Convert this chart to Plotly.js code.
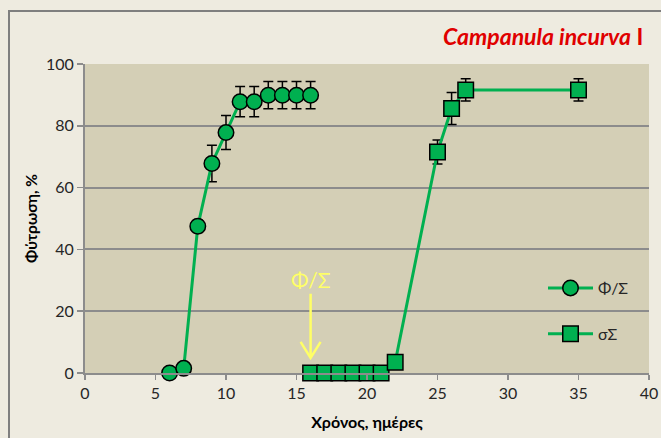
<!DOCTYPE html>
<html>
<head>
<meta charset="utf-8">
<script src="https://cdn.plot.ly/plotly-3.0.1.min.js"></script>
<style>
  html, body { margin: 0; padding: 0; background: #eeebe0; }
  #chart { width: 661px; height: 438px; }
</style>
</head>
<body>
<div id="chart"></div>
<script>
// ---- data ----
const daysFS = [6, 7, 8, 9, 10, 11, 12, 13, 14, 15, 16];
const germFS = [0, 1.5, 47.5, 67.8, 77.8, 87.8, 87.8, 89.9, 89.9, 89.9, 89.9];
const errFS  = [0, 0, 2, 5.9, 5.5, 4.9, 4.9, 4.4, 4.4, 4.4, 4.4];

const daysSS = [16, 17, 18, 19, 20, 21, 22, 25, 26, 27, 35];
const germSS = [0, 0, 0, 0, 0, 0, 3.5, 71.5, 85.6, 91.6, 91.6];
const errSS  = [0, 0, 0, 0, 0, 0, 0, 3.9, 5.2, 3.6, 3.6];

const seriesNames = ['Φ/Σ', 'σΣ'];
const xTicks = [0, 5, 10, 15, 20, 25, 30, 35, 40];
const yTicks = [0, 20, 40, 60, 80, 100];

const titleMain = 'Campanula incurva';
const titleSuffix = 'I';
const xTitle = 'Χρόνος, ημέρες';
const yTitle = 'Φύτρωση, %';
const markLabel = 'Φ/Σ';
const markDay = 16;
const markY = 4.9;

// ---- style ----
const green = '#00b050';
const grid = '#8c8c8c';
const font = "Lato, 'Noto Sans', 'DejaVu Sans', sans-serif";

const errStyle = { type: 'data', visible: true, color: '#000', thickness: 1.5, width: 5 };

const traces = [
  {
    x: daysFS, y: germFS, name: seriesNames[0], type: 'scatter', mode: 'lines+markers',
    legendgroup: 'a', cliponaxis: false,
    line: { color: green, width: 3 },
    marker: { symbol: 'circle', size: 15.5, color: green, line: { color: '#000', width: 1.5 } },
    error_y: Object.assign({ array: errFS }, errStyle)
  },
  {
    x: daysSS, y: germSS, name: seriesNames[1], type: 'scatter', mode: 'lines+markers',
    legendgroup: 'b', cliponaxis: false,
    line: { color: green, width: 3 },
    marker: { symbol: 'square', size: 15.5, color: green, line: { color: '#000', width: 1.5 } },
    error_y: Object.assign({ array: errSS }, errStyle)
  }
];

const L = 85, R = 12, T = 64, B = 65;
const pw = 661 - L - R, ph = 438 - T - B;
const px2x = p => (p - L) / pw;
const py2y = p => 1 - (p - T) / ph;

const layout = {
  width: 661, height: 438,
  margin: { l: L, r: R, t: T, b: B, pad: 0 },
  paper_bgcolor: '#eeebe0',
  plot_bgcolor: '#d4cfb6',
  font: { family: font, color: '#262626', size: 16 },
  showlegend: true,
  legend: {
    x: px2x(543), y: py2y(271), xanchor: 'left', yanchor: 'top',
    bgcolor: 'rgba(0,0,0,0)', traceorder: 'grouped', tracegroupgap: 22,
    itemwidth: 45, font: { size: 16, family: font, color: '#262626' }
  },
  xaxis: {
    range: [0, 40], tickvals: xTicks, ticktext: xTicks.map(String),
    showgrid: false, zeroline: false,
    showline: true, linecolor: grid, linewidth: 2,
    ticks: 'outside', ticklen: 5, tickcolor: grid, tickwidth: 1.5,
    tickfont: { size: 16 },
    title: { text: '<b>' + xTitle + '</b>', font: { size: 16, color: '#000' }, standoff: 16 }
  },
  yaxis: {
    range: [0, 100], tickvals: yTicks, ticktext: yTicks.map(String),
    showgrid: true, gridcolor: grid, gridwidth: 2, zeroline: false,
    showline: true, linecolor: grid, linewidth: 2,
    ticks: 'outside', ticklen: 6, tickcolor: grid, tickwidth: 1.5,
    tickfont: { size: 16 },
    title: { text: '<b>' + yTitle + '</b>', font: { size: 15.5, color: '#000' }, standoff: 5 }
  },
  annotations: [
    {
      xref: 'paper', yref: 'paper', x: px2x(645), y: py2y(36),
      xanchor: 'right', yanchor: 'middle', showarrow: false,
      text: '<b><i>' + titleMain + '</i> ' + titleSuffix + '</b>',
      font: { size: 23, color: '#e00000', family: font }
    },
    {
      xref: 'x', yref: 'y', x: markDay, y: markY, ax: 0, ay: -78,
      showarrow: true, arrowhead: 0, arrowwidth: 2.5, arrowcolor: '#ffff66',
      text: markLabel, font: { size: 21, color: '#ffff66', family: font }
    }
  ],
  shapes: [
    {
      type: 'path', xref: 'x', yref: 'y', xsizemode: 'pixel', ysizemode: 'pixel',
      xanchor: markDay, yanchor: markY,
      path: 'M-10,16 L0,0 L10,16',
      line: { color: '#ffff66', width: 2.5 }
    },
    {
      type: 'path', xref: 'paper', yref: 'paper',
      path: 'M' + px2x(9) + ',' + py2y(460) + ' L' + px2x(9) + ',' + py2y(11) + ' L' + px2x(700) + ',' + py2y(11),
      line: { color: '#7f7f7f', width: 2 }
    }
  ]
};

Plotly.newPlot('chart', traces, layout, { displayModeBar: false, staticPlot: true });
</script>
</body>
</html>
